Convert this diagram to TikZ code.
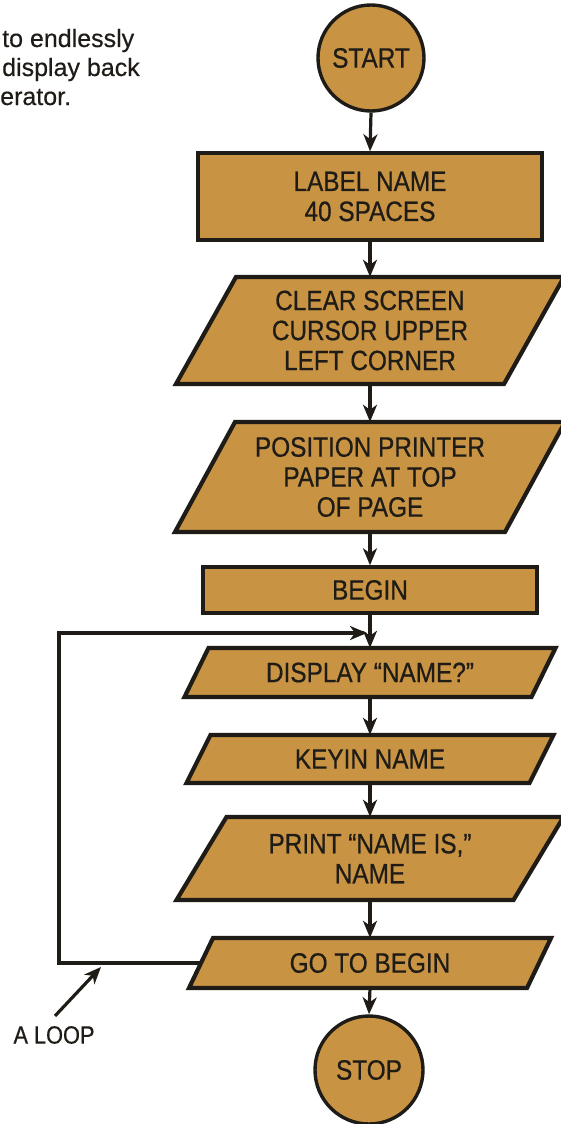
\documentclass[tikz,border=0pt]{standalone}
\usepackage{fontspec}
\newfontfamily\cond[FakeStretch=0.87,FakeBold=0.6]{Liberation Sans}
\newfontfamily\bodyfont[FakeBold=0.4]{Liberation Sans}
\usetikzlibrary{arrows.meta,calc}
\definecolor{gold}{HTML}{C89443}
\definecolor{ink}{HTML}{1F1B17}
% name, cx, cy, width at mid-height, height, half slant, text
\newcommand\pgram[7]{%
  \filldraw[pgshape] ({#2-#4/2+#6},{#3-#5/2}) -- ({#2+#4/2+#6},{#3-#5/2})
      -- ({#2+#4/2-#6},{#3+#5/2}) -- ({#2-#4/2-#6},{#3+#5/2}) -- cycle;
  \node[pgtext, minimum width=#4pt, minimum height=#5pt] (#1) at (#2,#3) {#7};}
\begin{document}
\begin{tikzpicture}[x=1pt,y=-1pt,
  boxfont/.style={font=\cond\fontsize{28}{30}\selectfont},
  shapebox/.style={draw=ink, line width=3.4pt, fill=gold, text=ink, boxfont, align=center, inner sep=0pt},
  pgtext/.style={text=ink, boxfont, align=center, inner sep=0pt},
  pgshape/.style={draw=ink, fill=gold, line width=4.2pt, line join=miter},
  conn/.style={draw=ink, line width=3.2pt, -{Stealth[length=17pt,width=14pt,inset=5pt]}},
  introtext/.style={anchor=base west, inner sep=0pt, text=ink, font=\bodyfont\fontsize{25}{29}\selectfont},
]
\useasboundingbox (0,0) rectangle (560,1124);

% introductory text (cut off at the left)
\node[introtext] (intro1) at (2,47) {to endlessly};
\node[introtext] (intro2) at (2,76) {display back};
\node[introtext] (intro3) at (0,105) {erator.};

% flowchart shapes
\node[shapebox, circle, minimum size=106pt] (start) at (371,58) {START};
\node[shapebox, minimum width=344pt, minimum height=87pt] (label) at (370,196.5) {LABEL NAME\\40 SPACES};
\pgram{clear}{370}{330.5}{328}{107}{30}{CLEAR SCREEN\\CURSOR UPPER\\LEFT CORNER}
\pgram{position}{370}{477}{330}{110}{30}{POSITION PRINTER\\PAPER AT TOP\\OF PAGE}
\node[shapebox, minimum width=334pt, minimum height=46pt] (begin) at (370,590) {BEGIN};
\pgram{display}{370}{672.5}{347}{49}{12}{DISPLAY “NAME?”}
\pgram{keyin}{370}{759}{343}{48}{12}{KEYIN NAME}
\pgram{print}{370}{858.5}{337}{83}{25}{PRINT “NAME IS,”\\NAME}
\pgram{goto}{370}{963}{338}{50}{12}{GO TO BEGIN}
\node[shapebox, circle, minimum size=108pt] (stop) at (369,1070) {STOP};

% connectors
\draw[conn] (start.south) -- (label.north);
\draw[conn] (label.south) -- (clear.north);
\draw[conn] (clear.south) -- (position.north);
\draw[conn] (position.south) -- (begin.north);
\draw[conn] (begin.south) -- (display.north);
\draw[conn] (display.south) -- (keyin.north);
\draw[conn] (keyin.south) -- (print.north);
\draw[conn] (print.south) -- (goto.north);
\draw[conn] (goto.south) -- (stop.north);

% loop back
\coordinate (loopx) at (59,0);
\coordinate (join) at (370,633);
\draw[conn, shorten >=3pt] (goto.west) -- (goto.west -| loopx) |- (join);

% "A LOOP" label
\node[inner sep=0pt, text=ink, font=\cond\fontsize{25}{28}\selectfont] (aloop) at (54,1035) {A LOOP};
\coordinate (loopmark) at (101,967);
\draw[conn] ([xshift=1pt,yshift=10pt]aloop.north) -- (loopmark);
\end{tikzpicture}
\end{document}
